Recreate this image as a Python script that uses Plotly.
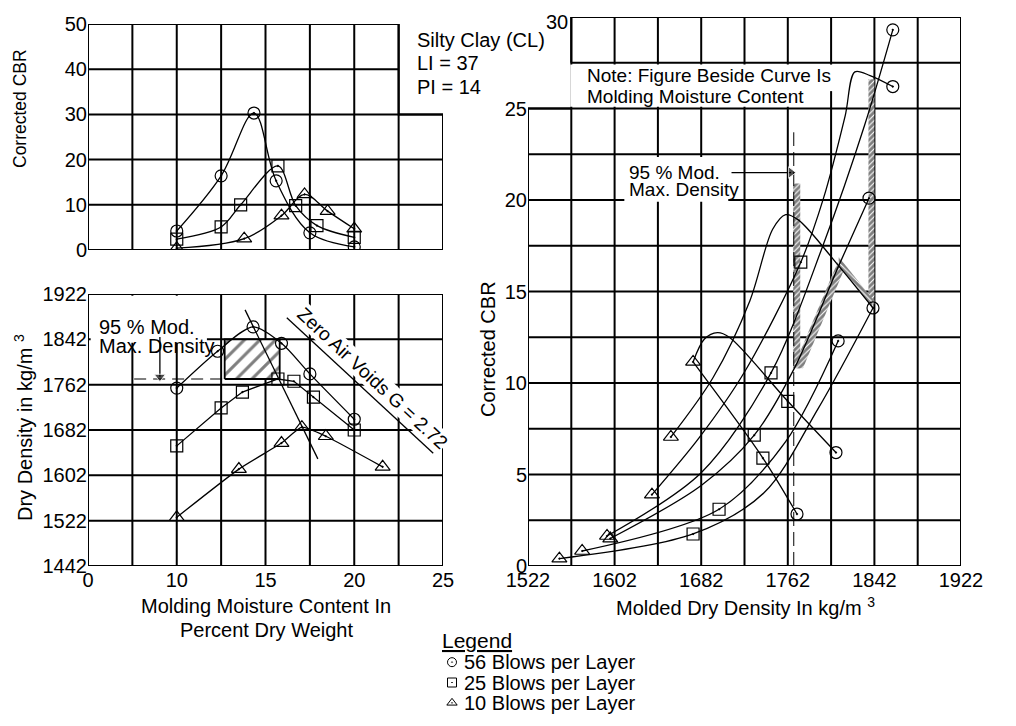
import plotly.graph_objects as go
import numpy as np

# page is 1016x726; the browser body adds an 8px margin, so the figure is drawn 8px in
PAGE_OFF = 8
FW, FH = 1000, 710
FONT = "Arial, Liberation Sans, Helvetica, sans-serif"

# ---------------- data: top-left (Corrected CBR vs molding moisture) ----------------
cbr_m56 = [10, 12.5, 14.35, 15.6, 17.5, 20]
cbr_v56 = [4.2, 16.4, 30.3, 15.3, 3.8, 0.7]
cbr_m25 = [10, 12.5, 13.6, 15.7, 16.7, 17.9, 20]
cbr_v25 = [2.4, 5.1, 10.0, 18.6, 9.8, 5.4, 2.8]
cbr_m10 = [10, 13.8, 15.9, 17.2, 18.5, 20]
cbr_v10 = [0.4, 2.5, 7.6, 12.3, 8.6, 4.7]

# ---------------- data: bottom-left (dry density vs molding moisture) ----------------
den_m56 = [10, 12.3, 14.3, 15.9, 17.5, 20]
den_v56 = [1756, 1821, 1864, 1835, 1781, 1701]
den_m25 = [10, 12.5, 13.7, 15.7, 16.6, 17.7, 20]
den_v25 = [1654, 1721, 1749, 1772, 1768, 1740, 1682]
den_m10 = [10, 13.5, 15.9, 17.05, 18.4, 21.6]
den_v10 = [1528, 1613, 1659, 1687, 1671, 1617]

opt_line_m = [13.85, 17.95]
opt_line_d = [1894, 1631]
zav_line_m = [16.2, 24.45]
zav_line_d = [1880, 1641]
mod95_density = 1772
max_density = 1842
hatch_moist = [12.7, 15.8]
mod95_dash_m = [7.6, 12.7]
arrow_left_m = [9.05, 9.05]
arrow_left_d = [1846, 1776]

# ---------------- data: right (Corrected CBR vs molded dry density) ----------------
tri_d = [1551, 1572, 1595, 1598, 1636.5, 1654, 1674.5]
tri_c = [0.4, 0.82, 1.64, 1.5, 3.9, 7.05, 11.15]
sq_d = [1674.5, 1698.5, 1731, 1739, 1746.5, 1762, 1774]
sq_c = [1.75, 3.1, 7.15, 5.9, 10.55, 9.0, 16.6]
circ_d = [1770.5, 1806.5, 1808.5, 1840.7, 1837, 1859, 1859]
circ_c = [2.84, 6.2, 12.3, 14.1, 20.1, 26.2, 29.3]

# curves of equal molding moisture
curve_a_d = [1551, 1674.5, 1740, 1790, 1840.7]
curve_a_c = [0.4, 1.75, 4.0, 8.6, 14.1]
curve_b_d = [1572, 1698.5, 1760, 1808.5]
curve_b_c = [0.82, 3.1, 6.8, 12.3]
curve_c_d = [1598, 1682, 1731, 1768, 1809, 1837]
curve_c_c = [1.5, 4.4, 7.15, 10.8, 16.4, 20.1]
curve_d_d = [1595, 1682, 1746.5, 1795, 1833, 1859]
curve_d_c = [1.64, 5.1, 10.55, 17.6, 24.1, 29.3]
curve_e_d = [1636.5, 1680, 1722, 1774, 1795, 1815, 1824, 1838, 1859]
curve_e_c = [3.9, 7.0, 10.6, 16.6, 20.1, 24.6, 27.0, 26.8, 26.2]
curve_f_d = [1654, 1693, 1727, 1748, 1760, 1772, 1809, 1840.7]
curve_f_c = [7.05, 10.3, 14.5, 18.4, 19.2, 18.9, 16.4, 14.1]
curve_g_d = [1674.5, 1685, 1697, 1708, 1762, 1806.5]
curve_g_c = [11.15, 12.4, 12.75, 12.5, 9.0, 6.2]
curve_h_d = [1674.5, 1739, 1770.5]
curve_h_c = [11.15, 5.9, 2.84]

mod95_right_density = 1767.5
mod95_right_top = 23.7
arrow_right_d = [1710, 1765]
arrow_right_c = [21.5, 21.5]
strip_a_d = [1767, 1773.5, 1773.5, 1767, 1767]
strip_a_c = [10.8, 10.8, 20.9, 20.9, 10.8]
strip_b_d = [1836.5, 1842, 1842, 1836.5, 1836.5]
strip_b_c = [14.3, 14.3, 26.6, 26.6, 14.3]
strip_c_d = [1767, 1808, 1814, 1776, 1767]
strip_c_c = [10.8, 16.6, 16.2, 10.8, 10.8]
strip_d_d = [1809, 1840, 1840, 1809, 1809]
strip_d_c = [16.4, 14.1, 14.6, 16.9, 16.4]

legend_names = ["56 Blows per Layer", "25 Blows per Layer", "10 Blows per Layer"]
legend_slots = [0, 1, 2]


def px(x):
    return (x - PAGE_OFF) / FW


def py(y):
    return 1 - (y - PAGE_OFF) / FH


fig = go.Figure()
LINE = dict(color="black", width=1.3)
SYM = {56: "circle-open-dot", 25: "square-open-dot", 10: "triangle-up-open-dot"}


def mk(sym, size=12):
    return dict(symbol=sym, size=size, color="black", line=dict(width=1.2, color="black"))


# ---- top-left ----
for m, v, b, shape, sm in [(cbr_m56, cbr_v56, 56, "spline", 1.0),
                           (cbr_m25, cbr_v25, 25, "spline", 0.9),
                           (cbr_m10, cbr_v10, 10, "spline", 1.0)]:
    fig.add_trace(go.Scatter(x=m, y=v, mode="lines+markers", xaxis="x", yaxis="y",
                             line=dict(LINE, shape=shape, smoothing=sm),
                             marker=mk(SYM[b], 13 if b == 10 else 12),
                             showlegend=False, hoverinfo="skip"))

# ---- bottom-left ----
fig.add_trace(go.Scatter(x=[hatch_moist[0], hatch_moist[1], hatch_moist[1], hatch_moist[0], hatch_moist[0]],
                         y=[mod95_density, mod95_density, max_density, max_density, mod95_density],
                         xaxis="x2", yaxis="y2", mode="lines", fill="toself",
                         fillcolor="white",
                         fillpattern=dict(shape="/", size=11, solidity=0.28, fgcolor="black", bgcolor="white"),
                         line=dict(color="black", width=1.8), showlegend=False, hoverinfo="skip"))
fig.add_trace(go.Scatter(x=mod95_dash_m, y=[mod95_density] * 2, xaxis="x2", yaxis="y2", mode="lines",
                         line=dict(color="black", width=1.2, dash="12px,7px"), showlegend=False, hoverinfo="skip"))
fig.add_trace(go.Scatter(x=arrow_left_m, y=arrow_left_d, xaxis="x2", yaxis="y2", mode="lines+markers",
                         line=dict(color="black", width=1.3),
                         marker=dict(symbol="triangle-down", size=[0, 10], color="black"),
                         showlegend=False, hoverinfo="skip"))
for m, v, b, shape, sm in [(den_m56, den_v56, 56, "spline", 0.8),
                           (den_m25, den_v25, 25, "linear", 0),
                           (den_m10, den_v10, 10, "spline", 0.5)]:
    fig.add_trace(go.Scatter(x=m, y=v, mode="lines+markers", xaxis="x2", yaxis="y2",
                             line=dict(LINE, shape=shape, smoothing=sm),
                             marker=mk(SYM[b], 13 if b == 10 else 12),
                             showlegend=False, hoverinfo="skip"))
fig.add_trace(go.Scatter(x=opt_line_m, y=opt_line_d, xaxis="x2", yaxis="y2", mode="lines",
                         line=LINE, showlegend=False, hoverinfo="skip"))
fig.add_trace(go.Scatter(x=zav_line_m, y=zav_line_d, xaxis="x2", yaxis="y2", mode="lines",
                         line=LINE, showlegend=False, hoverinfo="skip"))

# ---- right ----
for sd, sc, pat in [(strip_a_d, strip_a_c, "/"), (strip_b_d, strip_b_c, "/"),
                    (strip_c_d, strip_c_c, "/"), (strip_d_d, strip_d_c, "\\")]:
    fig.add_trace(go.Scatter(x=sd, y=sc, xaxis="x3", yaxis="y3", mode="lines", fill="toself",
                             fillcolor="white",
                             fillpattern=dict(shape=pat, size=4, solidity=0.72, fgcolor="black", bgcolor="white"),
                             line=dict(width=0, color="rgba(0,0,0,0)"), showlegend=False, hoverinfo="skip"))
fig.add_trace(go.Scatter(x=[mod95_right_density] * 2, y=[0, mod95_right_top], xaxis="x3", yaxis="y3",
                         mode="lines", line=dict(color="black", width=1.0, dash="14px,6px"),
                         showlegend=False, hoverinfo="skip"))
fig.add_trace(go.Scatter(x=arrow_right_d, y=arrow_right_c, xaxis="x3", yaxis="y3", mode="lines+markers",
                         line=dict(color="black", width=1.3),
                         marker=dict(symbol="triangle-right", size=[0, 10], color="black"),
                         showlegend=False, hoverinfo="skip"))
for cd, cc in [(curve_a_d, curve_a_c), (curve_b_d, curve_b_c), (curve_c_d, curve_c_c),
               (curve_d_d, curve_d_c), (curve_e_d, curve_e_c), (curve_f_d, curve_f_c),
               (curve_g_d, curve_g_c), (curve_h_d, curve_h_c)]:
    fig.add_trace(go.Scatter(x=cd, y=cc, xaxis="x3", yaxis="y3", mode="lines",
                             line=dict(LINE, shape="spline", smoothing=0.9),
                             showlegend=False, hoverinfo="skip"))
for dd, cc, b in [(circ_d, circ_c, 56), (sq_d, sq_c, 25), (tri_d, tri_c, 10)]:
    fig.add_trace(go.Scatter(x=dd, y=cc, xaxis="x3", yaxis="y3", mode="markers",
                             marker=mk(SYM[b], 13 if b == 10 else 12),
                             showlegend=False, hoverinfo="skip"))

# legend keys (own small axis, one slot per row)
for slot, b in zip(legend_slots, [56, 25, 10]):
    fig.add_trace(go.Scatter(x=[0], y=[slot], xaxis="x4", yaxis="y4", mode="markers",
                             marker=dict(symbol=SYM[b], size=9, color="black", line=dict(width=1, color="black")),
                             showlegend=False, hoverinfo="skip"))

# ---------------- grid, masks, frames ----------------
shapes = []
G = dict(color="black", width=2)


def seg(xref, yref, x0, y0, x1, y1, layer="between", line=G):
    shapes.append(dict(type="line", xref=xref, yref=yref, x0=x0, y0=y0, x1=x1, y1=y1,
                       line=line, layer=layer))


def mask(xref, yref, x0, y0, x1, y1):
    shapes.append(dict(type="rect", xref=xref, yref=yref, x0=x0, y0=y0, x1=x1, y1=y1,
                       fillcolor="white", line=dict(width=0), layer="between"))


# top-left grid (notched top-right corner)
for xv in np.arange(5, 25.01, 2.5):
    seg("x", "y", xv, 0, xv, 50 if xv <= 22.5 else 30)
for yv in range(0, 51, 10):
    seg("x", "y", 5, yv, 25 if yv <= 30 else 22.5, yv)
# bottom-left grid
for xv in np.arange(5, 25.01, 2.5):
    seg("x2", "y2", xv, 1442, xv, 1922)
for yv in range(1442, 1923, 80):
    seg("x2", "y2", 5, yv, 25, yv)
mask("x2", "y2", 5.15, 1836, 11.7, 1919)
# right grid (notched top-left corner)
for xv in range(1522, 1923, 40):
    seg("x3", "y3", xv, 0, xv, 25 if xv < 1562 else 30)
for yv in np.arange(0, 30.01, 2.5):
    seg("x3", "y3", 1522 if yv <= 25 else 1562, yv, 1922, yv)
mask("x3", "y3", 1561, 25.1, 1799, 27.4)
mask("x3", "y3", 1798, 25.95, 1806, 27.4)
mask("x3", "y3", 1611, 19.9, 1707, 22.35)

F = dict(color="black", width=2)
shapes.append(dict(type="path", xref="x", yref="y", path="M 5,0 L 5,50 L 22.5,50 L 22.5,30 L 25,30 L 25,0 Z",
                   line=F, layer="above"))
shapes.append(dict(type="rect", xref="x2", yref="y2", x0=5, y0=1442, x1=25, y1=1922, line=F, layer="above"))
shapes.append(dict(type="path", xref="x3", yref="y3",
                   path="M 1562,27.5 L 1562,30 L 1922,30 L 1922,0 L 1522,0 L 1522,25 L 1562,25",
                   line=F, layer="above"))

# ---------------- axes ----------------
tick_font = dict(family=FONT, size=20, color="black")
common = dict(showgrid=False, zeroline=False, showline=False, ticks="", tickfont=tick_font, automargin=False)
hidden = dict(visible=False, showgrid=False, zeroline=False, automargin=False)
fig.update_layout(
    xaxis=dict(common, domain=[px(88), px(443)], range=[5, 25], showticklabels=False, anchor="y"),
    yaxis=dict(common, domain=[py(250), py(24)], range=[0, 50], tickvals=[0, 10, 20, 30, 40, 50], anchor="x"),
    xaxis2=dict(common, domain=[px(88), px(443)], range=[5, 25], tickvals=[5, 10, 15, 20, 25],
                ticktext=["0", "10", "15", "20", "25"], anchor="y2"),
    yaxis2=dict(common, domain=[py(566), py(294)], range=[1442, 1922],
                tickvals=list(range(1442, 1923, 80)), anchor="x2"),
    xaxis3=dict(common, domain=[px(528), px(961)], range=[1522, 1922],
                tickvals=list(range(1522, 1923, 80)), anchor="y3"),
    yaxis3=dict(common, domain=[py(566), py(17)], range=[0, 30], tickvals=[0, 5, 10, 15, 20, 25], anchor="x3"),
    xaxis4=dict(hidden, domain=[px(446), px(458)], range=[-0.5, 0.5], anchor="y4"),
    yaxis4=dict(hidden, domain=[py(713), py(652)], range=[2.5, -0.5], anchor="x4"),
)

# ---------------- text ----------------
ann = []
TF = dict(family=FONT, size=20, color="black")


def text(x, y, s, xref="paper", yref="paper", xanchor="center", yanchor="middle", angle=0, size=20, **kw):
    d = dict(x=x, y=y, xref=xref, yref=yref, text=s, showarrow=False, xanchor=xanchor, yanchor=yanchor,
             textangle=angle, font=dict(TF, size=size))
    d.update(kw)
    ann.append(d)


text(px(20), py(109), "Corrected CBR", angle=-90, size=17.5)
text(px(23), py(428), "Dry Density in kg/m <sup>3</sup>", angle=-90)
text(px(488), py(349), "Corrected CBR", angle=-90)
text(px(266), py(606), "Molding Moisture Content In")
text(px(266), py(630), "Percent Dry Weight")
text(px(745), py(606), "Molded Dry Density In kg/m <sup>3</sup>")
text(px(415), py(40), "Silty Clay (CL)", xanchor="left")
text(px(415), py(63), "LI = 37", xanchor="left")
text(px(415), py(87), "PI = 14", xanchor="left")
# "30" label sits inside the notch of the right chart
text(1549, 29.75, "30", xref="x3", yref="y3")
# bottom-left notes
text(5.5, 1863, "95 % Mod.", xref="x2", yref="y2", xanchor="left")
text(5.5, 1831, "Max. Density", xref="x2", yref="y2", xanchor="left")
text(21.05, 1773, "Zero Air Voids G = 2.72", xref="x2", yref="y2", angle=43, size=19,
     bgcolor="white", borderpad=0)
# right notes
text(1575, 26.8, "Note: Figure Beside Curve Is", xref="x3", yref="y3", xanchor="left", size=19)
text(1575, 25.65, "Molding Moisture Content", xref="x3", yref="y3", xanchor="left", size=19)
text(1613, 21.5, "95 % Mod.", xref="x3", yref="y3", xanchor="left", size=19)
text(1613, 20.55, "Max. Density", xref="x3", yref="y3", xanchor="left", size=19)
# legend
text(px(477), py(640), "<u>Legend</u>", size=21)
for slot, name in zip(legend_slots, legend_names):
    text(px(462), slot, name, yref="y4", xanchor="left", size=20)

fig.update_layout(
    shapes=shapes, annotations=ann,
    width=FW, height=FH, margin=dict(l=0, r=0, t=0, b=0, autoexpand=False),
    paper_bgcolor="white", plot_bgcolor="white",
    font=dict(family=FONT, color="black"),
    showlegend=False,
)

fig.write_html("out.html")
